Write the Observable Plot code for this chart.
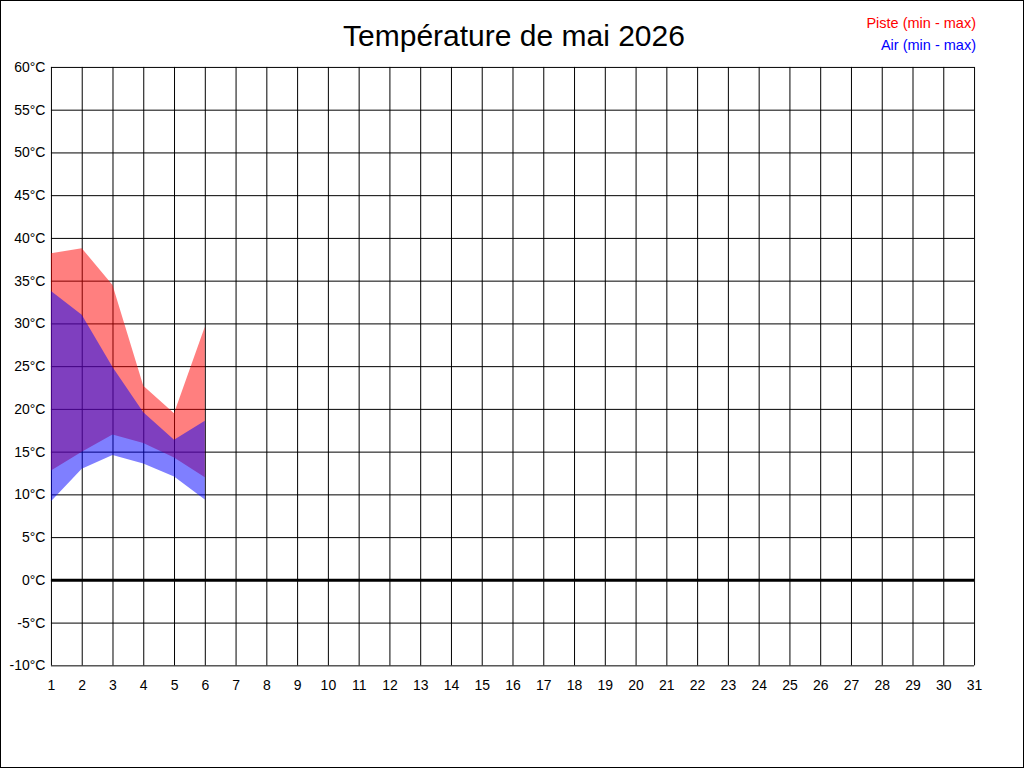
<!DOCTYPE html>
<html>
<head>
<meta charset="utf-8">
<script src="https://cdn.jsdelivr.net/npm/d3@7"></script>
<script src="https://cdn.jsdelivr.net/npm/@observablehq/plot@0.6"></script>
<style>
  html, body { margin: 0; padding: 0; background: #fff; }
  #wrap { position: relative; width: 1024px; height: 768px; box-sizing: border-box; border: 1px solid #000; overflow: hidden; font-family: "Liberation Sans", Arial, sans-serif; }
  #chart { position: absolute; left: -1px; top: -1px; }
  #title { position: absolute; left: 0; width: 1026px; top: 17px; text-align: center; font-size: 30px; color: #000; line-height: 36px; }
  .leg { position: absolute; right: 47px; font-size: 14.5px; line-height: 16px; }
  #legP { top: 14px; color: #ff0000; }
  #legA { top: 36px; color: #0000ff; }
</style>
</head>
<body>
<div id="wrap">
  <div id="chart"></div>
  <div id="title">Température de mai 2026</div>
  <div class="leg" id="legP">Piste (min - max)</div>
  <div class="leg" id="legA">Air (min - max)</div>
</div>
<script>
const days     = [1, 2, 3, 4, 5, 6];
const pisteMin = [12.8, 15.0, 17.0, 16.0, 14.3, 12.0];
const pisteMax = [38.2, 38.8, 34.5, 22.7, 19.5, 29.6];
const airMin   = [9.2, 13.0, 14.6, 13.6, 12.1, 9.4];
const airMax   = [33.8, 31.0, 24.9, 19.6, 16.4, 18.6];
const xTicks = d3.range(1, 32);
const yTicks = d3.range(-10, 61, 5);

const rows = days.map((d, i) => ({day: d, pMin: pisteMin[i], pMax: pisteMax[i], aMin: airMin[i], aMax: airMax[i]}));

const chart = Plot.plot({
  width: 1024,
  height: 768,
  marginLeft: 51,
  marginRight: 49,
  marginTop: 67,
  marginBottom: 102,
  style: {fontFamily: "'Liberation Sans', Arial, sans-serif", fontSize: "14px", color: "#000", background: "transparent"},
  x: {domain: [1, 31], ticks: xTicks, tickSize: 0, tickPadding: 14, label: null, tickFormat: d => String(d)},
  y: {domain: [-10, 60], ticks: yTicks, tickSize: 0, tickPadding: 6, label: null, tickFormat: d => `${d}°C`},
  marks: [
    Plot.ruleX(xTicks, {stroke: "#000", strokeWidth: 1}),
    Plot.ruleY(yTicks, {stroke: "#000", strokeWidth: 1}),
    Plot.areaY(rows, {x: "day", y1: "pMin", y2: "pMax", fill: "#ff0000", fillOpacity: 0.5}),
    Plot.areaY(rows, {x: "day", y1: "aMin", y2: "aMax", fill: "#0000ff", fillOpacity: 0.5}),
    Plot.ruleY([0], {stroke: "#000", strokeWidth: 3})
  ]
});
document.getElementById("chart").appendChild(chart);
</script>
</body>
</html>
